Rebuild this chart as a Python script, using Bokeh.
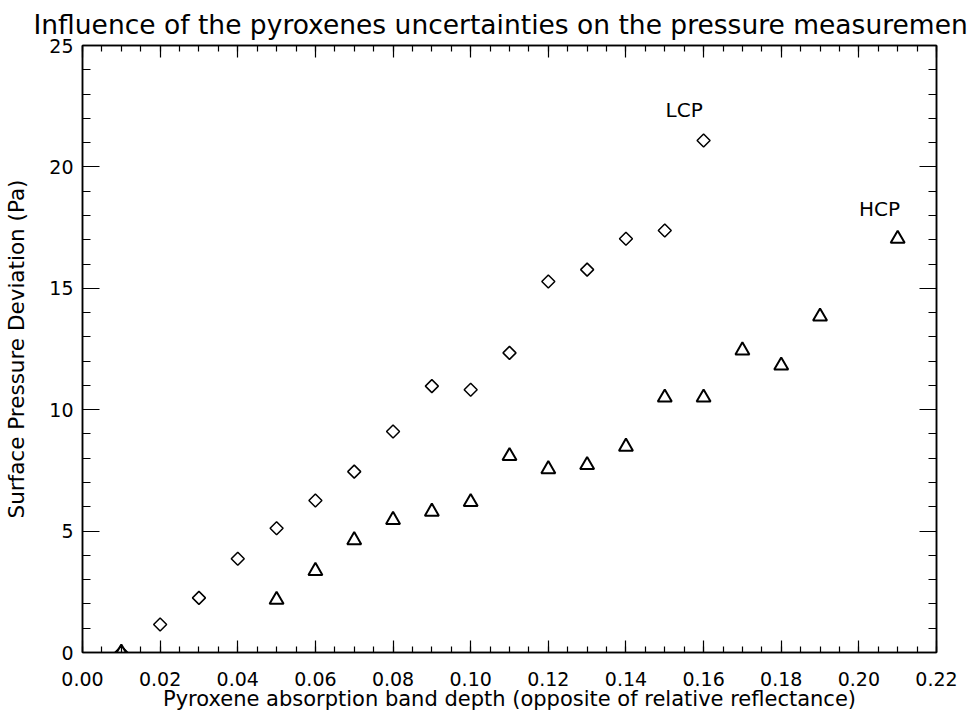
import numpy as np
from bokeh.plotting import figure
from bokeh.models import (LinearAxis, Range1d, FixedTicker, NumeralTickFormatter,
                          Label, ColumnDataSource)
from bokeh.embed import file_html
from bokeh.resources import INLINE

# ---------------- data ----------------
title_text = "Influence of the pyroxenes uncertainties on the pressure measuremen"
x_label_text = "Pyroxene absorption band depth (opposite of relative reflectance)"
y_label_text = "Surface Pressure Deviation (Pa)"

lcp_x = [0.01, 0.02, 0.03, 0.04, 0.05, 0.06, 0.07, 0.08, 0.09, 0.10,
         0.11, 0.12, 0.13, 0.14, 0.15, 0.16]
lcp_y = [0.0, 1.15, 2.25, 3.86, 5.12, 6.26, 7.45, 9.10, 10.97, 10.82,
         12.34, 15.28, 15.77, 17.04, 17.38, 21.09]

hcp_x = [0.01, 0.05, 0.06, 0.07, 0.08, 0.09, 0.10, 0.11, 0.12, 0.13,
         0.14, 0.15, 0.16, 0.17, 0.18, 0.19, 0.21]
hcp_y = [0.0, 2.17, 3.36, 4.63, 5.46, 5.80, 6.20, 8.09, 7.55, 7.72,
         8.48, 10.50, 10.50, 12.44, 11.82, 13.84, 17.04]

series_names = ["LCP", "HCP"]
series_label_x = [0.155, 0.2053]
series_label_y = [22.33, 18.25]

x_ticks = [0.00, 0.02, 0.04, 0.06, 0.08, 0.10, 0.12, 0.14, 0.16, 0.18, 0.20, 0.22]
x_minor = [round(i * 0.005, 3) for i in range(0, 45)]
y_ticks = [0, 5, 10, 15, 20, 25]
y_minor = list(range(0, 26))

FONT = "DejaVu Sans"

p = figure(width=970, height=713,
           x_range=Range1d(0, 0.22), y_range=Range1d(0, 25),
           output_backend="svg", toolbar_location=None,
           min_border_left=82, min_border_right=34,
           min_border_top=45, min_border_bottom=61)
p.grid.visible = False
p.outline_line_color = "black"
p.outline_line_width = 1.5
p.background_fill_color = "white"
p.border_fill_color = "white"

# title
p.title.text = title_text
p.title.text_font = FONT
p.title.text_font_size = "26.5px"
p.title.text_font_style = "normal"
p.title.text_color = "black"
p.title.align = "left"
p.title.offset = -49
p.title.standoff = 11

xt = FixedTicker(ticks=x_ticks, minor_ticks=x_minor)
yt = FixedTicker(ticks=y_ticks, minor_ticks=y_minor)

bottom_axis = p.below[0]
left_axis = p.left[0]
top_axis = LinearAxis()
right_axis = LinearAxis()
p.add_layout(top_axis, "above")
p.add_layout(right_axis, "right")

def style(ax, horizontal):
    ax.axis_line_color = "black"
    ax.axis_line_width = 1.5
    ax.major_tick_line_color = "black"
    ax.minor_tick_line_color = "black"
    ax.major_tick_line_width = 1.2
    ax.minor_tick_line_width = 1.2
    ax.major_tick_out = 0
    ax.minor_tick_out = 0
    if horizontal:
        ax.major_tick_in = 12
        ax.minor_tick_in = 6
    else:
        ax.major_tick_in = 17
        ax.minor_tick_in = 8
    ax.major_label_text_font = FONT
    ax.major_label_text_font_size = "19px"
    ax.major_label_text_color = "black"
    ax.axis_label_text_font = FONT
    ax.axis_label_text_font_size = "21px"
    ax.axis_label_text_font_style = "normal"
    ax.axis_label_text_color = "black"

for ax in [bottom_axis, top_axis]:
    style(ax, True)
    ax.ticker = xt
for ax in [left_axis, right_axis]:
    style(ax, False)
    ax.ticker = yt

bottom_axis.formatter = NumeralTickFormatter(format="0.00")
bottom_axis.major_label_standoff = 19
bottom_axis.axis_label = x_label_text
bottom_axis.axis_label_standoff = -2

left_axis.major_label_standoff = 9
left_axis.axis_label = y_label_text
left_axis.axis_label_standoff = 17
left_axis.axis_label_text_font_size = "21.5px"

for ax in [top_axis, right_axis]:
    ax.major_label_text_font_size = "0px"
    ax.major_label_text_color = None
    ax.major_label_standoff = 0

# data marks
src_lcp = ColumnDataSource(dict(x=lcp_x, y=lcp_y))
src_hcp = ColumnDataSource(dict(x=hcp_x, y=hcp_y))
p.scatter("x", "y", source=src_lcp, marker="square", angle=np.pi / 4, size=9.2,
          fill_color=None, line_color="black", line_width=1.5)
p.scatter("x", "y", source=src_hcp, marker="triangle", size=14,
          fill_color=None, line_color="black", line_width=2)

# series annotations
for name, lx, ly in zip(series_names, series_label_x, series_label_y):
    p.add_layout(Label(x=lx, y=ly, text=name, text_font=FONT, text_font_size="20px",
                       text_align="center", text_baseline="alphabetic",
                       text_color="black"))

open("out.html", "w").write(file_html(p, INLINE))
